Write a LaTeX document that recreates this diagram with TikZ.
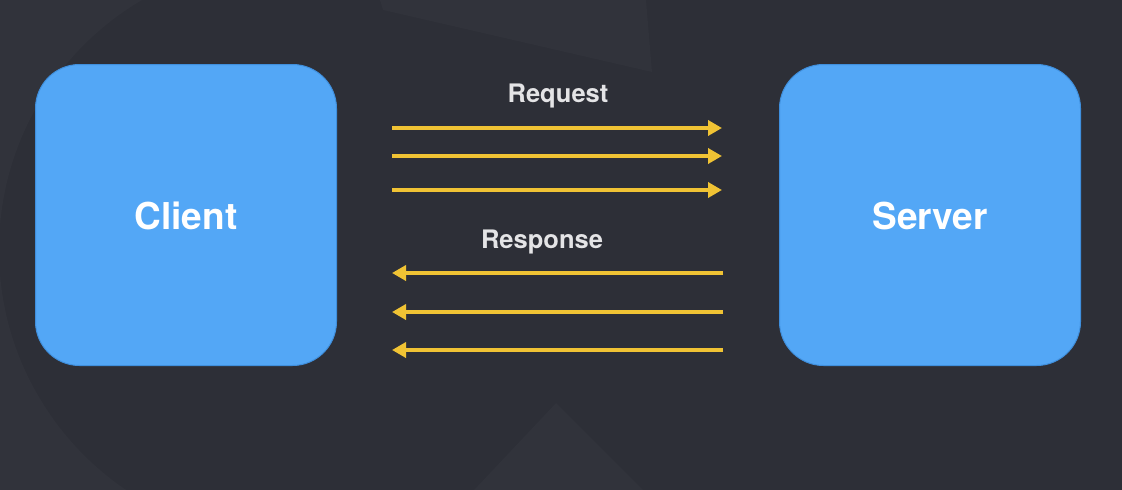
\documentclass[tikz,border=0pt]{standalone}
\usepackage{fontspec}
\setmainfont{TeX Gyre Heros}
\usetikzlibrary{arrows.meta}

\definecolor{bgbase}{HTML}{2D2F37}
\definecolor{bgshade}{HTML}{31333B}
\definecolor{boxblue}{HTML}{53A7F6}
\definecolor{boxedge}{HTML}{3F8FDD}
\definecolor{flow}{HTML}{F0C334}
\definecolor{labelgray}{HTML}{E4E4E6}

\tikzset{
  endpoint/.style={rectangle, rounded corners=44pt, fill=boxblue, draw=boxedge,
    line width=1pt, minimum width=301pt, minimum height=301pt},
  boxlabel/.style={text=white, font=\bfseries\fontsize{37}{40}\selectfont,
    inner sep=0pt, anchor=base},
  flowlabel/.style={text=labelgray, font=\bfseries\fontsize{25.5}{28}\selectfont,
    inner sep=0pt, anchor=base},
  flowarrow/.style={draw=flow, line width=4pt,
    -{Triangle[length=14pt, width=15pt]}}
}

\begin{document}
\begin{tikzpicture}[x=1pt, y=-1pt]
  % canvas
  \useasboundingbox (0,0) rectangle (1122,490);
  \fill[bgbase] (0,0) rectangle (1122,490);
  % faint backdrop shapes
  \begin{scope}
    \clip (0,0) rectangle (289,490);
    \fill[bgshade, even odd rule] (0,0) rectangle (289,490) (289,250) circle (290pt);
  \end{scope}
  \fill[bgshade] (380,0) -- (383,10) -- (652,72) -- (646,0) -- cycle;
  \fill[bgshade] (474,490) -- (556,403) -- (643,490) -- cycle;

  % the two parties
  \node[endpoint] (client) at (186,215) {};
  \node[endpoint] (server) at (930,215) {};
  \node[boxlabel] (clientlabel) at (186,229) {Client};
  \node[boxlabel] (serverlabel) at (930,229) {Server};

  % requests: client to server
  \node[flowlabel] (request) at (558,102) {Request};
  \coordinate (rqa1) at (392,128); \coordinate (rqb1) at (722,128);
  \coordinate (rqa2) at (392,156); \coordinate (rqb2) at (722,156);
  \coordinate (rqa3) at (392,190); \coordinate (rqb3) at (722,190);
  \draw[flowarrow] (rqa1) -- (rqb1);
  \draw[flowarrow] (rqa2) -- (rqb2);
  \draw[flowarrow] (rqa3) -- (rqb3);

  % responses: server to client
  \node[flowlabel] (response) at (542,248) {Response};
  \coordinate (rsa1) at (723,273); \coordinate (rsb1) at (392,273);
  \coordinate (rsa2) at (723,312); \coordinate (rsb2) at (392,312);
  \coordinate (rsa3) at (723,350); \coordinate (rsb3) at (392,350);
  \draw[flowarrow] (rsa1) -- (rsb1);
  \draw[flowarrow] (rsa2) -- (rsb2);
  \draw[flowarrow] (rsa3) -- (rsb3);
\end{tikzpicture}
\end{document}
